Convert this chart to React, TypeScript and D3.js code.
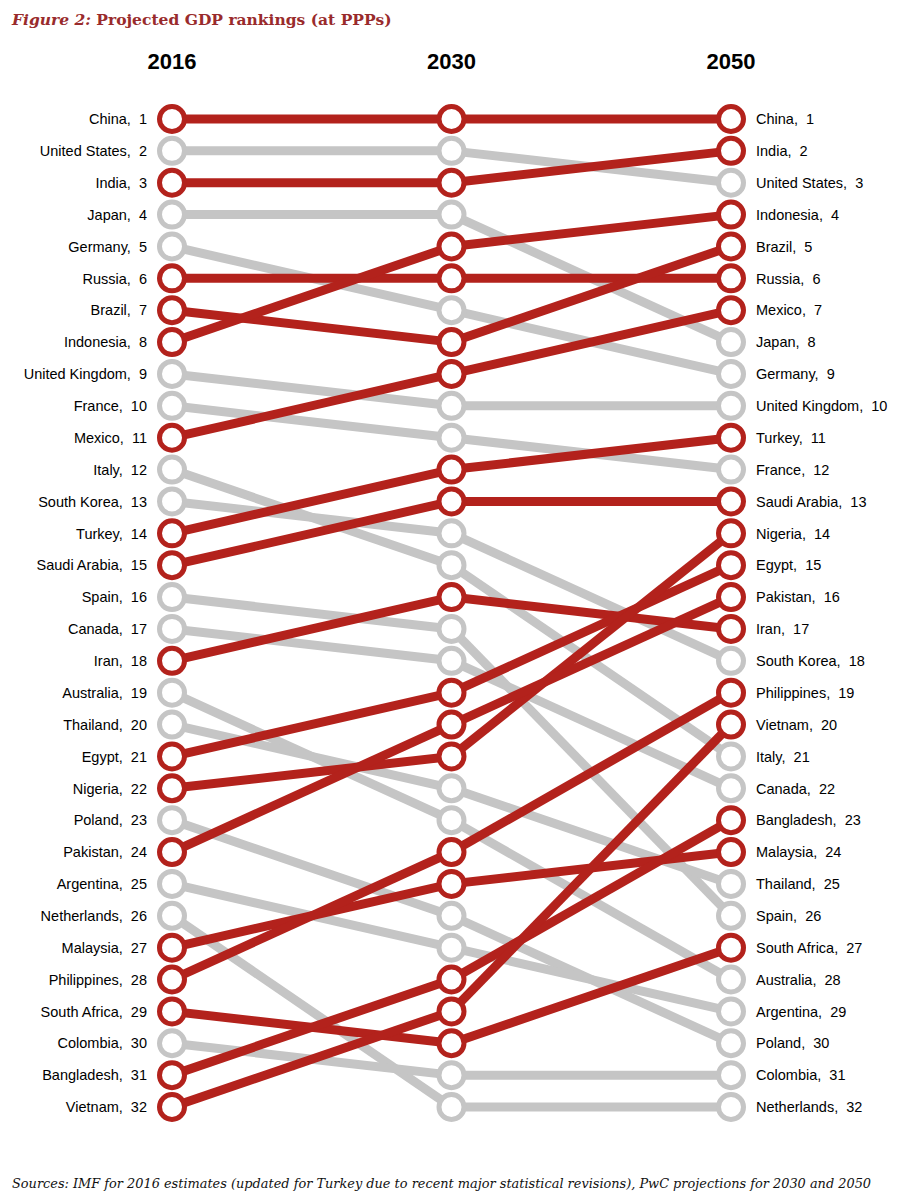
import { scaleLinear, scalePoint } from "d3";

const years = ["2016", "2030", "2050"];

const countries = [
  "China", "United States", "India", "Japan", "Germany", "Russia", "Brazil", "Indonesia",
  "United Kingdom", "France", "Mexico", "Italy", "South Korea", "Turkey", "Saudi Arabia",
  "Spain", "Canada", "Iran", "Australia", "Thailand", "Egypt", "Nigeria", "Poland",
  "Pakistan", "Argentina", "Netherlands", "Malaysia", "Philippines", "South Africa",
  "Colombia", "Bangladesh", "Vietnam",
];

const rank2016 = [
  1, 2, 3, 4, 5, 6, 7, 8, 9, 10, 11, 12, 13, 14, 15, 16,
  17, 18, 19, 20, 21, 22, 23, 24, 25, 26, 27, 28, 29, 30, 31, 32,
];
const rank2030 = [
  1, 2, 3, 4, 7, 6, 8, 5, 10, 11, 9, 15, 14, 12, 13, 17,
  18, 16, 23, 22, 19, 21, 26, 20, 27, 32, 25, 24, 30, 31, 28, 29,
];
const rank2050 = [
  1, 3, 2, 8, 9, 6, 5, 4, 10, 12, 7, 21, 18, 11, 13, 26,
  22, 17, 28, 25, 15, 14, 30, 16, 29, 32, 24, 19, 27, 31, 23, 20,
];

const highlighted = [
  "China", "India", "Russia", "Brazil", "Indonesia", "Mexico", "Turkey", "Saudi Arabia",
  "Iran", "Egypt", "Nigeria", "Pakistan", "Malaysia", "Philippines", "South Africa",
  "Bangladesh", "Vietnam",
];

const RED = "#b3221c";
const GRAY = "#c5c5c5";

export default function App() {
  const x = scalePoint<string>().domain(years).range([172, 731]);
  const y = scaleLinear().domain([1, 32]).range([119, 1107]);

  const rows = countries.map((name, i) => ({
    name,
    ranks: [rank2016[i], rank2030[i], rank2050[i]],
    red: highlighted.includes(name),
  }));
  // grey first so the highlighted countries sit on top
  const ordered = [...rows.filter((r) => !r.red), ...rows.filter((r) => r.red)];

  const labelFont = "Liberation Sans, Arial, sans-serif";
  const serif = "DejaVu Serif, Georgia, serif";

  return (
    <svg
      width={911}
      height={1200}
      style={{ position: "absolute", left: 0, top: 0, background: "#fff" }}
    >
      <text x={12} y={25} fontFamily={serif} fontSize={15.5} fontWeight="bold" fill="#992b2c">
        <tspan fontStyle="italic">Figure 2:</tspan> Projected GDP rankings (at PPPs)
      </text>

      {years.map((yr) => (
        <text
          key={yr}
          x={x(yr)}
          y={69}
          textAnchor="middle"
          fontFamily={labelFont}
          fontSize={22}
          fontWeight="bold"
          fill="#000"
        >
          {yr}
        </text>
      ))}

      {ordered.map((r) =>
        [0, 1].map((k) => (
          <line
            key={`${r.name}-${k}`}
            x1={x(years[k])}
            y1={y(r.ranks[k])}
            x2={x(years[k + 1])}
            y2={y(r.ranks[k + 1])}
            stroke={r.red ? RED : GRAY}
            strokeWidth={9}
          />
        ))
      )}

      {ordered.map((r) =>
        years.map((yr, k) => (
          <circle
            key={`${r.name}-c-${yr}`}
            cx={x(yr)}
            cy={y(r.ranks[k])}
            r={12.5}
            fill="#fff"
            stroke={r.red ? RED : GRAY}
            strokeWidth={5}
          />
        ))
      )}

      {rows.map((r) => (
        <text
          key={`${r.name}-l`}
          x={(x("2016") ?? 0) - 25}
          y={y(r.ranks[0])}
          dy="0.36em"
          textAnchor="end"
          fontFamily={labelFont}
          fontSize={14.5}
          fill="#000"
        >
          {`${r.name},\u00a0 ${r.ranks[0]}`}
        </text>
      ))}

      {rows.map((r) => (
        <text
          key={`${r.name}-r`}
          x={(x("2050") ?? 0) + 25}
          y={y(r.ranks[2])}
          dy="0.36em"
          fontFamily={labelFont}
          fontSize={14.5}
          fill="#000"
        >
          {`${r.name},\u00a0 ${r.ranks[2]}`}
        </text>
      ))}

      <text x={12} y={1188} fontFamily={serif} fontSize={12.9} fontStyle="italic" fill="#111">
        Sources: IMF for 2016 estimates (updated for Turkey due to recent major statistical revisions), PwC projections for 2030 and 2050
      </text>
    </svg>
  );
}
